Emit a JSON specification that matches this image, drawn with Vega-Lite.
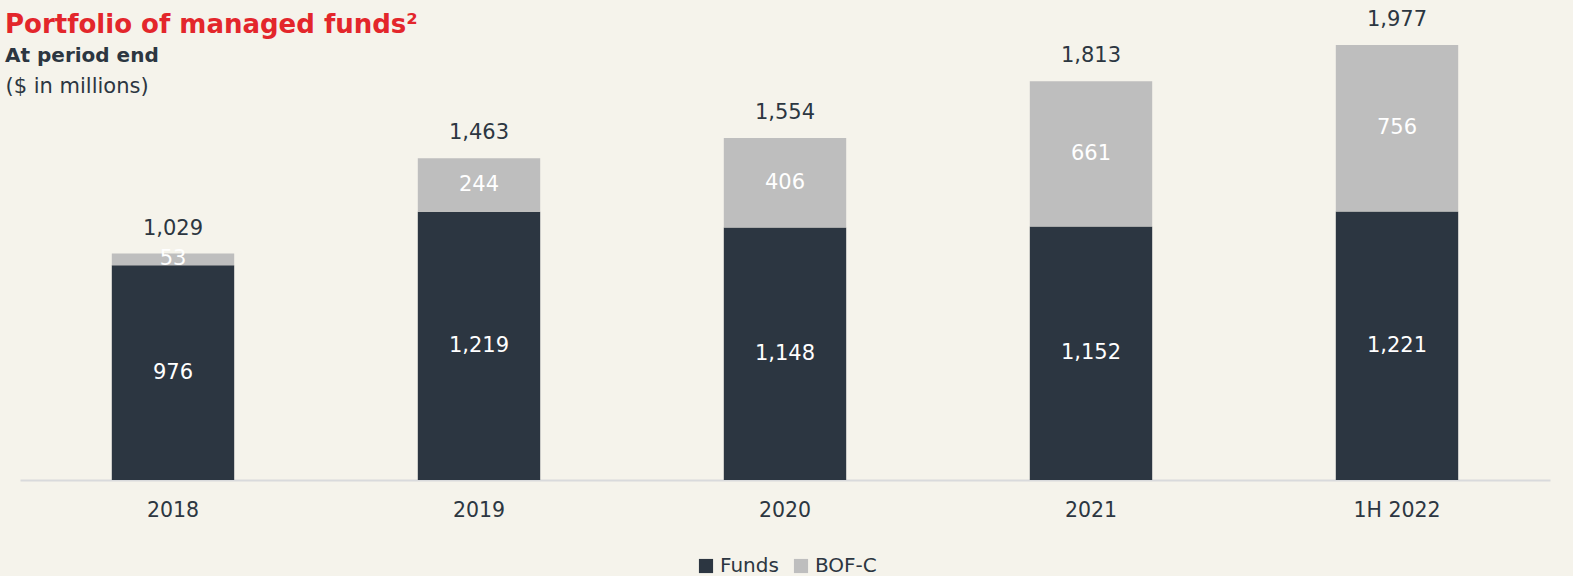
{
  "$schema": "https://vega.github.io/schema/vega-lite/v6.json",
  "width": 1530,
  "height": 440,
  "autosize": {"type": "none"},
  "padding": {"left": 20, "top": 40, "right": 23, "bottom": 96},
  "background": "#f5f3eb",
  "config": {
    "view": {"stroke": null},
    "font": "DejaVu Sans"
  },
  "title": {
    "text": "Portfolio of managed funds²",
    "subtitle": "At period end",
    "anchor": "start",
    "frame": "group",
    "orient": "top",
    "dx": -15,
    "offset": 0,
    "dy": 57,
    "font": "DejaVu Sans",
    "fontSize": 26,
    "fontWeight": "bold",
    "color": "#e3262b",
    "subtitleFont": "DejaVu Sans",
    "subtitleFontSize": 20,
    "subtitleFontWeight": "bold",
    "subtitleColor": "#2c3641",
    "subtitlePadding": 8
  },
  "data": {
    "values": [
      {"year": "2018", "series": "Funds", "value": 976, "ord": 0},
      {"year": "2018", "series": "BOF-C", "value": 53, "ord": 1},
      {"year": "2019", "series": "Funds", "value": 1219, "ord": 0},
      {"year": "2019", "series": "BOF-C", "value": 244, "ord": 1},
      {"year": "2020", "series": "Funds", "value": 1148, "ord": 0},
      {"year": "2020", "series": "BOF-C", "value": 406, "ord": 1},
      {"year": "2021", "series": "Funds", "value": 1152, "ord": 0},
      {"year": "2021", "series": "BOF-C", "value": 661, "ord": 1},
      {"year": "1H 2022", "series": "Funds", "value": 1221, "ord": 0},
      {"year": "1H 2022", "series": "BOF-C", "value": 756, "ord": 1}
    ]
  },
  "encoding": {
    "x": {
      "field": "year",
      "type": "nominal",
      "sort": ["2018", "2019", "2020", "2021", "1H 2022"],
      "scale": {"paddingInner": 0.6, "paddingOuter": 0.3},
      "axis": {
        "title": null,
        "labelAngle": 0,
        "labelFontSize": 20.5,
        "labelColor": "#2c3641",
        "labelPadding": 20,
        "ticks": false,
        "domainColor": "#d9dadc",
        "domainWidth": 2
      }
    }
  },
  "layer": [
    {
      "mark": {"type": "bar"},
      "encoding": {
        "y": {
          "field": "value",
          "type": "quantitative",
          "stack": "zero",
          "scale": {"domain": [0, 2000], "nice": false},
          "axis": {
            "title": "($ in millions)",
            "titleAngle": 0,
            "titleAlign": "left",
            "titleBaseline": "alphabetic",
            "titleX": -15,
            "titleY": 52,
            "titleFontSize": 21,
            "titleFontWeight": "normal",
            "titleColor": "#2c3641",
            "labels": false,
            "ticks": false,
            "domain": false,
            "grid": false
          }
        },
        "color": {
          "field": "series",
          "type": "nominal",
          "scale": {"domain": ["Funds", "BOF-C"], "range": ["#2c3641", "#bebebe"]},
          "legend": {
            "title": null,
            "orient": "none",
            "direction": "horizontal",
            "legendX": 676,
            "legendY": 516,
            "symbolType": "square",
            "symbolSize": 200,
            "symbolStrokeWidth": 0,
            "labelFontSize": 20,
            "labelColor": "#2c3641",
            "columnPadding": 12,
            "labelOffset": 4
          }
        },
        "order": {"field": "ord", "type": "quantitative"}
      }
    },
    {
      "transform": [
        {"stack": "value", "groupby": ["year"], "sort": [{"field": "ord"}], "as": ["v0", "v1"]},
        {"calculate": "(datum.v0 + datum.v1) / 2", "as": "mid"}
      ],
      "mark": {"type": "text", "fontSize": 21, "color": "white", "baseline": "middle"},
      "encoding": {
        "y": {"field": "mid", "type": "quantitative"},
        "text": {"field": "value", "type": "quantitative", "format": ","}
      }
    },
    {
      "transform": [
        {"aggregate": [{"op": "sum", "field": "value", "as": "total"}], "groupby": ["year"]}
      ],
      "mark": {"type": "text", "fontSize": 21, "color": "#2c3641", "baseline": "middle", "dy": -25},
      "encoding": {
        "y": {"field": "total", "type": "quantitative"},
        "text": {"field": "total", "type": "quantitative", "format": ","}
      }
    }
  ]
}
